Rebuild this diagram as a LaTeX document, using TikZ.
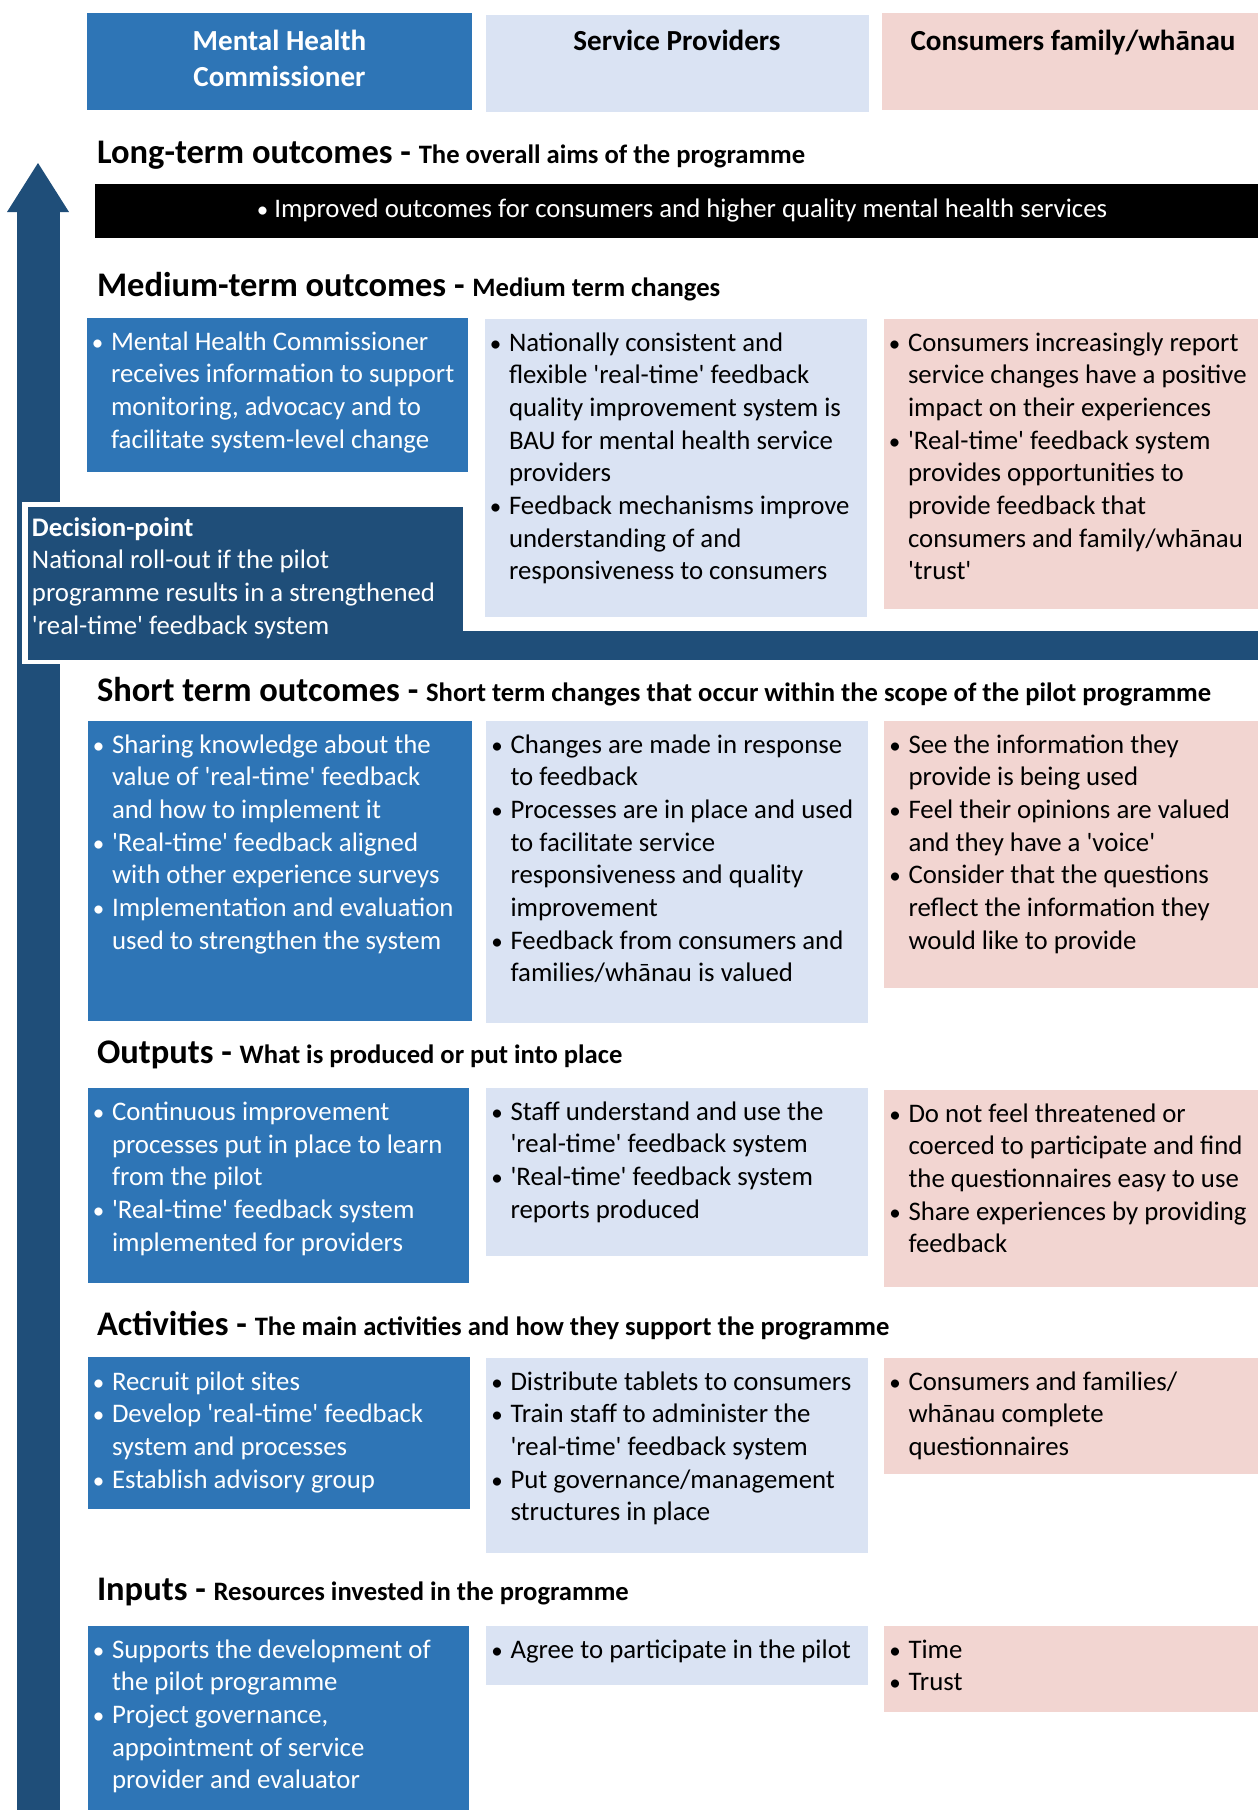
\documentclass[tikz,border=0pt]{standalone}
\usepackage{fontspec}
\setmainfont{Carlito}[Ligatures=TeXOff]
\definecolor{mhc}{HTML}{2E75B6}
\definecolor{spb}{HTML}{DAE3F3}
\definecolor{cfp}{HTML}{F2D5D1}
\definecolor{navy}{HTML}{1F4E79}
\newcommand\bodyf{\fontsize{13.4pt}{16.35pt}\selectfont}
\newcommand\headf{\fontsize{14.55pt}{18pt}\selectfont\bfseries}
\newcommand\bigh{\fontsize{17.25pt}{20pt}\selectfont\bfseries}
\newcommand\smallh{\fontsize{13.3pt}{16pt}\selectfont\bfseries}
\newcommand\bu{\llap{{\fontsize{11.5pt}{12pt}\selectfont •}\hspace{3.8pt}}}
\newcommand\heading[2]{{\bigh #1 - }{\smallh #2}}
\newcommand\blines[1]{\begin{tabular}[t]{@{}l@{}}#1\end{tabular}}
\begin{document}
\begin{tikzpicture}[x=0.5pt,y=-0.5pt,
  txt/.style={anchor=base west,inner sep=0,outer sep=0,font=\bodyf,text=black},
  wtxt/.style={txt,text=white},
  hdr/.style={anchor=base,inner sep=0,outer sep=0,font=\headf},
  hd/.style={anchor=base west,inner sep=0,outer sep=0}]
\useasboundingbox (0,0) rectangle (1258,1810);
\fill[white] (0,0) rectangle (1258,1810);

% arrow
\fill[navy] (17,212) rectangle (60,1810);
\fill[navy] (38,163) -- (69,212) -- (7,212) -- cycle;

% column headers
\fill[mhc] (87,13) rectangle (472,110);
\fill[spb] (486,15) rectangle (869,112);
\fill[cfp] (882,13) rectangle (1258,110);
\node[hdr,text=white] (h1a) at (279.5,50) {Mental Health};
\node[hdr,text=white] (h1b) at (279.5,86) {Commissioner};
\node[hdr] (h2) at (677,50.5) {Service Providers};
\node[hdr] (h3) at (1073,50) {Consumers family/whānau};

% long-term
\node[hd] (lth) at (97,163) {\heading{Long-term outcomes}{The overall aims of the programme}};
\fill[black] (95,184) rectangle (1258,238);
\node[anchor=base,inner sep=0,font=\bodyf,text=white] (ltt) at (682,217) {{\fontsize{11.5pt}{12pt}\selectfont •} Improved outcomes for consumers and higher quality mental health services};

% medium-term
\node[hd] (mth) at (97,296) {\heading{Medium-term outcomes}{Medium term changes}};
\fill[mhc] (87,318) rectangle (468,472);
\fill[spb] (485,319) rectangle (867,617);
\fill[cfp] (884,319) rectangle (1258,609);
\node[wtxt] (m1) at (111,350) {\blines{\bu Mental Health Commissioner\\ receives information to support\\ monitoring, advocacy and to\\ facilitate system-level change}};
\node[txt] (m2) at (509,351) {\blines{\bu Nationally consistent and\\ flexible 'real-time' feedback\\ quality improvement system is\\ BAU for mental health service\\ providers\\ \bu Feedback mechanisms improve\\ understanding of and\\ responsiveness to consumers}};
\node[txt] (m3) at (908,351) {\blines{\bu Consumers increasingly report\\ service changes have a positive\\ impact on their experiences\\ \bu 'Real-time' feedback system\\ provides opportunities to\\ provide feedback that\\ consumers and family/whānau\\ 'trust'}};

% decision point
\fill[white] (22,502) rectangle (463,664);
\fill[navy] (28,507) rectangle (463,660);
\fill[navy] (462,631) rectangle (1258,660);
\node[wtxt] (dp) at (32,536) {\blines{\textbf{Decision-point}\\ National roll-out if the pilot\\ programme results in a strengthened\\ 'real-time' feedback system}};

% short-term
\node[hd] (sth) at (97,701) {\heading{Short term outcomes}{Short term changes that occur within the scope of the pilot programme}};
\fill[mhc] (88,721) rectangle (472,1021);
\fill[spb] (486,721) rectangle (868,1023);
\fill[cfp] (884,721) rectangle (1258,988);
\node[wtxt] (s1) at (112,753) {\blines{\bu Sharing knowledge about the\\ value of 'real-time' feedback\\ and how to implement it\\ \bu 'Real-time' feedback aligned\\ with other experience surveys\\ \bu Implementation and evaluation\\ used to strengthen the system}};
\node[txt] (s2) at (510.5,753) {\blines{\bu Changes are made in response\\ to feedback\\ \bu Processes are in place and used\\ to facilitate service\\ responsiveness and quality\\ improvement\\ \bu Feedback from consumers and\\ families/whānau is valued}};
\node[txt] (s3) at (908.5,753) {\blines{\bu See the information they\\ provide is being used\\ \bu Feel their opinions are valued\\ and they have a 'voice'\\ \bu Consider that the questions\\ reflect the information they\\ would like to provide}};

% outputs
\node[hd] (oh) at (97,1063) {\heading{Outputs}{What is produced or put into place}};
\fill[mhc] (88,1088) rectangle (469,1283);
\fill[spb] (486,1088) rectangle (868,1256);
\fill[cfp] (884,1090) rectangle (1258,1287);
\node[wtxt] (o1) at (112,1120.5) {\blines{\bu Continuous improvement\\ processes put in place to learn\\ from the pilot\\ \bu 'Real-time' feedback system\\ implemented for providers}};
\node[txt] (o2) at (510.5,1120) {\blines{\bu Staff understand and use the\\ 'real-time' feedback system\\ \bu 'Real-time' feedback system\\ reports produced}};
\node[txt] (o3) at (908.5,1122) {\blines{\bu Do not feel threatened or\\ coerced to participate and find\\ the questionnaires easy to use\\ \bu Share experiences by providing\\ feedback}};

% activities
\node[hd] (ah) at (97,1335) {\heading{Activities}{The main activities and how they support the programme}};
\fill[mhc] (88,1357) rectangle (470,1509);
\fill[spb] (486,1358) rectangle (868,1553);
\fill[cfp] (884,1358) rectangle (1258,1474);
\node[wtxt] (a1) at (112,1390) {\blines{\bu Recruit pilot sites\\ \bu Develop 'real-time' feedback\\ system and processes\\ \bu Establish advisory group}};
\node[txt] (a2) at (510.5,1390) {\blines{\bu Distribute tablets to consumers\\ \bu Train staff to administer the\\ 'real-time' feedback system\\ \bu Put governance/management\\ structures in place}};
\node[txt] (a3) at (908.5,1390) {\blines{\bu Consumers and families/\\ whānau complete\\ questionnaires}};

% inputs
\node[hd] (ih) at (97,1600) {\heading{Inputs}{Resources invested in the programme}};
\fill[mhc] (88,1626) rectangle (469,1810);
\fill[spb] (486,1626) rectangle (868,1685);
\fill[cfp] (884,1626) rectangle (1258,1712);
\node[wtxt] (i1) at (112,1658) {\blines{\bu Supports the development of\\ the pilot programme\\ \bu Project governance,\\ appointment of service\\ provider and evaluator}};
\node[txt] (i2) at (510.5,1658) {\blines{\bu Agree to participate in the pilot}};
\node[txt] (i3) at (908.5,1658) {\blines{\bu Time\\ \bu Trust}};
\end{tikzpicture}
\end{document}
